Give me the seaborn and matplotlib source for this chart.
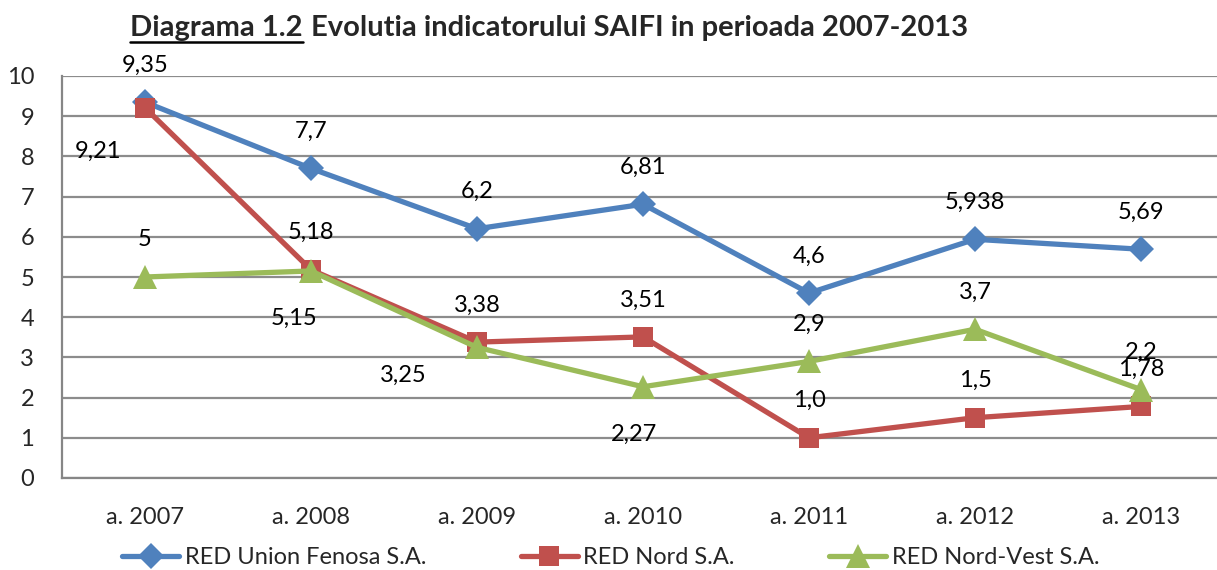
import matplotlib
matplotlib.use("Agg")
import matplotlib.pyplot as plt
from matplotlib.lines import Line2D
import seaborn as sns
import pandas as pd

years = ["a. 2007", "a. 2008", "a. 2009", "a. 2010", "a. 2011", "a. 2012", "a. 2013"]
union_fenosa = [9.35, 7.7, 6.2, 6.81, 4.6, 5.938, 5.69]
red_nord = [9.21, 5.18, 3.38, 3.51, 1.0, 1.5, 1.78]
nord_vest = [5.0, 5.15, 3.25, 2.27, 2.9, 3.7, 2.2]
union_labels = ["9,35", "7,7", "6,2", "6,81", "4,6", "5,938", "5,69"]
nord_labels = ["9,21", "5,18", "3,38", "3,51", "1,0", "1,5", "1,78"]
vest_labels = ["5", "5,15", "3,25", "2,27", "2,9", "3,7", "2,2"]
series_names = ["RED Union Fenosa S.A.", "RED Nord S.A.", "RED Nord-Vest S.A."]

sns.set_theme(style="white")
plt.rcParams['font.family'] = ['Lato', 'DejaVu Sans']

W, H = 1217, 570
fig = plt.figure(figsize=(W / 100, H / 100), dpi=100)
ax = fig.add_axes([62 / W, 1 - 478 / H, (1224 - 62) / W, (478 - 76) / H])

df = pd.DataFrame({
    "pos": list(range(len(years))) * 3,
    "val": union_fenosa + red_nord + nord_vest,
    "serie": [series_names[0]] * 7 + [series_names[1]] * 7 + [series_names[2]] * 7,
})
colors = ["#4F81BD", "#C0504D", "#9BBB59"]
markers = ["D", "s", "^"]
msizes = [13, 15, 17]

for name, col, mk, ms in zip(series_names, colors, markers, msizes):
    sub = df[df["serie"] == name]
    sns.lineplot(data=sub, x="pos", y="val", ax=ax, color=col, marker=mk,
                 markersize=ms, markeredgewidth=0, linewidth=3.8, label=name,
                 legend=False, zorder=3)

# data labels, offsets in pixels (most sit above the point)
default_off = (0, 37)
special = {
    (1, 0): (-47, -44),
    (2, 1): (-17, -47),
    (2, 2): (-74, -28),
    (2, 3): (-9, -48),
}
for si, (vals, labs) in enumerate([(union_fenosa, union_labels),
                                   (red_nord, nord_labels),
                                   (nord_vest, vest_labels)]):
    for i, (v, t) in enumerate(zip(vals, labs)):
        off = special.get((si, i), default_off)
        ax.annotate(t, (i, v), xytext=off, textcoords="offset pixels",
                    ha="center", va="center", fontsize=17, color="black",
                    annotation_clip=False, zorder=5)

ax.set_xlim(-0.5, 6.5)
ax.set_ylim(0, 10)
ax.set_yticks(range(0, 11))
ax.set_yticklabels([str(i) for i in range(0, 11)], fontsize=17)
ax.set_xticks([i - 0.5 for i in range(8)])
ax.set_xticklabels([])
ax.set_xticks(range(7), minor=True)
ax.set_xticklabels(years, minor=True, fontsize=17)
ax.tick_params(axis="x", which="minor", length=0, pad=21)
ax.tick_params(axis="x", which="major", length=7, width=1.5, color="#868686", direction="out")
ax.tick_params(axis="y", length=8, width=1.5, color="#868686", direction="out", pad=12)
ax.set_xlabel("")
ax.set_ylabel("")
ax.yaxis.grid(True, color="#8c8c8c", linewidth=1.6)
ax.xaxis.grid(False)
for s in ["top", "right"]:
    ax.spines[s].set_visible(False)
for s in ["left", "bottom"]:
    ax.spines[s].set_color("#868686")
    ax.spines[s].set_linewidth(1.6)
ax.set_axisbelow(True)

handles = [Line2D([], [], color=c, marker=m, markersize=ms, markeredgewidth=0, linewidth=3.8)
           for c, m, ms in zip(colors, markers, msizes)]
fig.legend(handles, series_names, loc="center", bbox_to_anchor=(611 / W, 1 - 558 / H),
           ncol=3, frameon=False, fontsize=17, handlelength=2.4, handletextpad=0.25,
           columnspacing=4.0)

# title with underlined first part
renderer = fig.canvas.get_renderer()
t1 = fig.text(130 / W, 1 - 28 / H, "Diagrama 1.2", fontsize=21, fontweight="bold",
              ha="left", va="center")
bb = t1.get_window_extent(renderer)
t2 = fig.text(bb.x1 / W + 8 / W, 1 - 28 / H, "Evolutia indicatorului SAIFI in perioada 2007-2013",
              fontsize=21, fontweight="bold", ha="left", va="center")
fig.add_artist(Line2D([bb.x0 / W, bb.x1 / W], [1 - 42 / H, 1 - 42 / H], color="black",
                      linewidth=1.8, transform=fig.transFigure))

fig.savefig("out.png", dpi=100)
